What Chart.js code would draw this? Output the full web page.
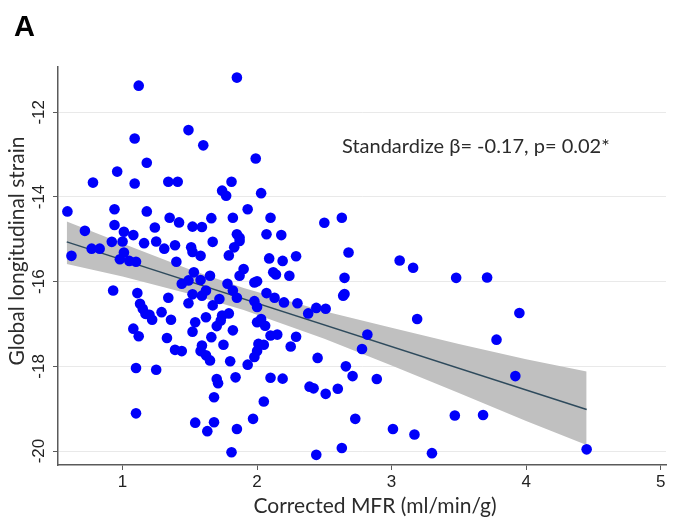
<!DOCTYPE html>
<html>
<head>
<meta charset="utf-8">
<script src="https://cdn.jsdelivr.net/npm/chart.js@4.4.1/dist/chart.umd.min.js"></script>
<style>
  html, body { margin: 0; padding: 0; background: #fff; }
  #wrap { width: 681px; height: 526px; }
</style>
</head>
<body>
<div id="wrap"><canvas id="chart" width="681" height="526"></canvas></div>
<script>
// scatter: [corrected MFR, global longitudinal strain]
const points = [
  [1.12,-11.37],[1.85,-11.18],[1.49,-12.42],[1.09,-12.62],[1.60,-12.78],[1.99,-13.09],
  [1.18,-13.19],[0.96,-13.40],[0.78,-13.66],[1.09,-13.68],[1.34,-13.64],[1.41,-13.64],
  [1.81,-13.64],[1.74,-13.85],[1.77,-13.97],[2.03,-13.91],
  [0.59,-14.34],[0.94,-14.29],[1.18,-14.34],[1.93,-14.29],[1.35,-14.49],[1.42,-14.60],
  [1.66,-14.50],[1.82,-14.49],[2.10,-14.49],[2.63,-14.49],[2.50,-14.61],[1.52,-14.70],
  [1.59,-14.71],[0.94,-14.66],[0.72,-14.80],[1.01,-14.82],[1.08,-14.90],[1.24,-14.72],
  [2.07,-14.88],[2.18,-14.90],[1.85,-14.88],[1.87,-14.96],
  [0.92,-15.06],[1.00,-15.05],[1.16,-15.09],[1.25,-15.05],[1.31,-15.22],[1.39,-15.14],
  [1.51,-15.19],[1.52,-15.30],[1.67,-15.06],[1.87,-15.04],[1.83,-15.19],[1.79,-15.38],
  [1.58,-15.39],[1.40,-15.53],[0.77,-15.22],[0.83,-15.22],[0.62,-15.39],[1.01,-15.31],
  [0.98,-15.47],[1.05,-15.51],[1.10,-15.53],[2.09,-15.45],[2.19,-15.51],[2.29,-15.40],
  [2.68,-15.31],[3.06,-15.50],[3.16,-15.67],
  [1.90,-15.70],[1.87,-15.86],[2.12,-15.78],[2.14,-15.83],[2.24,-15.86],[2.65,-15.91],
  [3.48,-15.91],[3.71,-15.90],[1.53,-15.78],[1.58,-15.96],[1.65,-15.86],[1.44,-16.05],
  [1.49,-15.97],[1.98,-16.02],[2.00,-15.99],[1.78,-16.05],
  [0.93,-16.21],[1.11,-16.27],[1.34,-16.38],[1.52,-16.30],[1.59,-16.33],[1.62,-16.21],
  [1.49,-16.51],[1.67,-16.56],[1.72,-16.41],[1.82,-16.21],[1.85,-16.38],[1.98,-16.46],
  [2.07,-16.27],[2.13,-16.38],[2.20,-16.49],[2.30,-16.51],[2.00,-16.60],[2.64,-16.33],
  [2.65,-16.29],[1.13,-16.52],
  [1.15,-16.64],[1.17,-16.76],[1.20,-16.78],[1.22,-16.90],[1.29,-16.72],[1.36,-16.90],
  [1.74,-16.80],[1.79,-16.75],[1.73,-16.92],[1.70,-17.05],[1.54,-16.96],[1.62,-16.84],
  [2.38,-16.75],[2.44,-16.62],[2.51,-16.64],[3.19,-16.88],[3.95,-16.74],[2.00,-16.96],
  [2.03,-16.88],[2.06,-17.04],
  [1.08,-17.11],[1.12,-17.29],[1.33,-17.33],[1.52,-17.18],[1.82,-17.15],[1.66,-17.31],
  [1.75,-17.49],[1.59,-17.51],[2.01,-17.47],[2.10,-17.27],[2.15,-17.25],[2.29,-17.30],
  [2.05,-17.49],[2.25,-17.53],[2.82,-17.25],[2.78,-17.59],[3.78,-17.37],[1.39,-17.61],
  [1.44,-17.64],
  [1.58,-17.64],[1.62,-17.74],[1.65,-17.86],[1.80,-17.88],[1.93,-17.96],[1.98,-17.78],
  [2.00,-17.64],[2.45,-17.80],[1.10,-18.04],[1.25,-18.08],[2.66,-18.00],
  [1.70,-18.30],[1.71,-18.40],[1.84,-18.26],[2.10,-18.27],[2.19,-18.29],[2.71,-18.23],
  [2.89,-18.30],[3.92,-18.23],[2.39,-18.48],[2.42,-18.52],[2.60,-18.53],[2.51,-18.65],
  [1.68,-18.73],[2.05,-18.83],
  [1.10,-19.11],[1.54,-19.33],[1.68,-19.32],[1.63,-19.53],[1.85,-19.48],[1.97,-19.24],
  [2.73,-19.24],[3.01,-19.48],[3.17,-19.61],[3.47,-19.16],[3.68,-19.15],[1.81,-20.03],
  [2.44,-20.09],[2.63,-19.93],[3.30,-20.05],[4.45,-19.96]
];

// fitted line and its confidence band
const fitX = [0.585, 4.45];
const fitY = [-15.06, -19.02];
const bandX     = [0.585, 1.0, 1.5, 1.9, 2.5, 3.0, 3.5, 4.0, 4.45];
const bandUpper = [-14.58, -15.10, -15.71, -16.15, -16.70, -17.09, -17.47, -17.83, -18.12];
const bandLower = [-15.58, -15.88, -16.29, -16.67, -17.35, -17.98, -18.63, -19.29, -19.86];

const xTicks = [1, 2, 3, 4, 5];
const yTicks = [-20, -18, -16, -14, -12];

const panelLabel = "A";
const xTitle = "Corrected MFR (ml/min/g)";
const yTitle = "Global longitudinal strain";
const note = "Standardize \u03b2= -0.17, p= 0.02*";

const toXY = (xs, ys) => xs.map((x, i) => ({ x: x, y: ys[i] }));

const textPlugin = {
  id: "figText",
  afterDraw(chart) {
    const ctx = chart.ctx;
    ctx.save();
    ctx.fillStyle = "#000";
    ctx.textBaseline = "alphabetic";
    ctx.font = "bold 29px 'Liberation Sans'";
    ctx.fillText(panelLabel, 14, 36);

    ctx.fillStyle = "#2b2b2b";
    ctx.font = "20px Lato";
    ctx.fillText(note, 342, 153);

    ctx.font = "21px Lato";
    ctx.textAlign = "center";
    ctx.fillText(xTitle, 375, 513);

    ctx.translate(24, 251);
    ctx.rotate(-Math.PI / 2);
    ctx.fillText(yTitle, 0, 0);
    ctx.restore();
  }
};

new Chart(document.getElementById("chart"), {
  type: "scatter",
  data: {
    datasets: [
      {
        label: "GLS",
        data: points.map(p => ({ x: p[0], y: p[1] })),
        backgroundColor: "rgb(0,0,250)",
        borderWidth: 0,
        pointRadius: 5.3
      },
      {
        type: "line",
        label: "Fit",
        data: toXY(fitX, fitY),
        borderColor: "rgb(46,74,92)",
        borderWidth: 1.5,
        pointRadius: 0,
        fill: false
      },
      {
        type: "line",
        label: "CI upper",
        data: toXY(bandX, bandUpper),
        borderWidth: 0,
        borderColor: "rgba(0,0,0,0)",
        pointRadius: 0,
        backgroundColor: "rgb(192,192,192)",
        fill: "+1"
      },
      {
        type: "line",
        label: "CI lower",
        data: toXY(bandX, bandLower),
        borderWidth: 0,
        borderColor: "rgba(0,0,0,0)",
        pointRadius: 0,
        fill: false
      }
    ]
  },
  options: {
    responsive: false,
    animation: false,
    layout: { padding: { left: 0, right: 15, top: 67, bottom: 0 } },
    plugins: { legend: { display: false }, tooltip: { enabled: false } },
    scales: {
      x: {
        type: "linear",
        min: 0.52,
        max: 5.04,
        afterBuildTicks: s => { s.ticks = xTicks.map(v => ({ value: v })); },
        afterFit: s => { s.height = 61; },
        border: { display: true, color: "#5a5a5a", width: 1.5 },
        grid: { display: true, drawOnChartArea: false, drawTicks: true, tickLength: 5, tickColor: "#5a5a5a" },
        ticks: { autoSkip: false, padding: 2, color: "#222", font: { family: "'Liberation Sans'", size: 17 } }
      },
      y: {
        type: "linear",
        min: -20.33,
        max: -10.93,
        afterBuildTicks: s => { s.ticks = yTicks.map(v => ({ value: v })); },
        afterFit: s => { s.width = 58; },
        border: { display: true, color: "#5a5a5a", width: 1.5 },
        grid: { display: true, drawOnChartArea: true, color: "#e9e9e9", drawTicks: true, tickLength: 5, tickColor: "#5a5a5a" },
        ticks: {
          autoSkip: false, minRotation: 90, maxRotation: 90, crossAlign: "center",
          padding: 1, color: "#222", font: { family: "'Liberation Sans'", size: 17 }
        }
      }
    }
  },
  plugins: [textPlugin]
});
</script>
</body>
</html>
